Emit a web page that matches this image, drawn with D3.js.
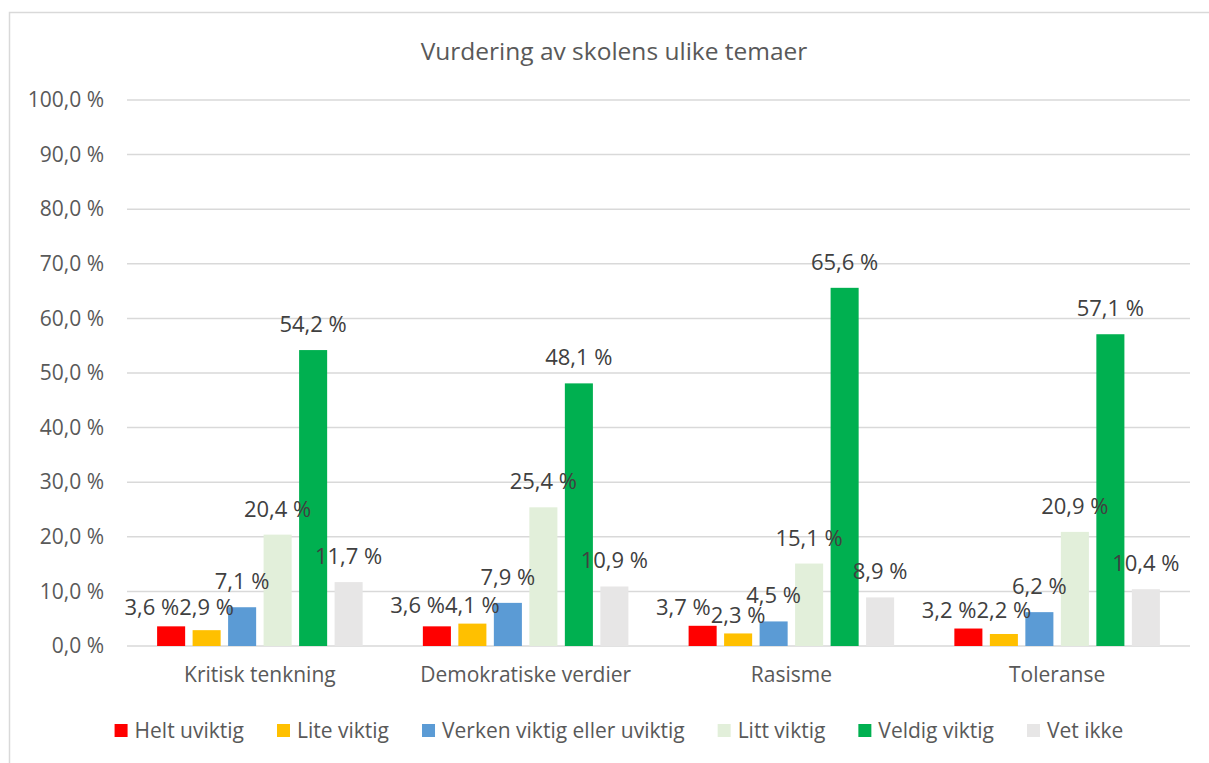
<!DOCTYPE html>
<html>
<head>
<meta charset="utf-8">
<script src="https://cdn.jsdelivr.net/npm/d3@7"></script>
<style>
  body { margin: 0; background: #fff; }
  svg { display: block; font-family: "Open Sans", "Noto Sans", sans-serif; }
</style>
</head>
<body>
<svg width="1209" height="763"></svg>
<script>
var categories = ["Kritisk tenkning", "Demokratiske verdier", "Rasisme", "Toleranse"];
var seriesNames = ["Helt uviktig", "Lite viktig", "Verken viktig eller uviktig", "Litt viktig", "Veldig viktig", "Vet ikke"];
var seriesColors = ["#FF0000", "#FFC000", "#5B9BD5", "#E2EFDA", "#00B050", "#E7E6E6"];
var heltUviktig = [3.6, 3.6, 3.7, 3.2];
var liteViktig = [2.9, 4.1, 2.3, 2.2];
var verken = [7.1, 7.9, 4.5, 6.2];
var littViktig = [20.4, 25.4, 15.1, 20.9];
var veldigViktig = [54.2, 48.1, 65.6, 57.1];
var vetIkke = [11.7, 10.9, 8.9, 10.4];
var yTicks = [0, 10, 20, 30, 40, 50, 60, 70, 80, 90, 100];

var seriesValues = [heltUviktig, liteViktig, verken, littViktig, veldigViktig, vetIkke];

var svg = d3.select("svg");
var nb = d3.formatLocale({decimal: ",", thousands: " ", grouping: [3], currency: ["", ""]});
var fmt = function(v) { return nb.format(".1f")(v) + " %"; };

// outer chart border
svg.append("rect")
  .attr("x", 9.5).attr("y", 12.5)
  .attr("width", 1250).attr("height", 800)
  .attr("fill", "none").attr("stroke", "#D9D9D9").attr("stroke-width", 1.5);

svg.append("text")
  .attr("x", 614).attr("y", 60)
  .attr("text-anchor", "middle")
  .attr("fill", "#595959")
  .style("font-size", "24.5px")
  .text("Vurdering av skolens ulike temaer");

var x0 = d3.scaleBand().domain(categories).range([127, 1190]).padding(0);
var x1 = d3.scaleBand().domain(seriesNames).range([0, x0.bandwidth()])
  .paddingInner(0.21).paddingOuter(0.848);
var y = d3.scaleLinear().domain([0, 100]).range([646, 100]);

// gridlines
svg.append("g").selectAll("line")
  .data(yTicks)
  .join("line")
  .attr("x1", 127).attr("x2", 1190)
  .attr("y1", d => y(d)).attr("y2", d => y(d))
  .attr("stroke", "#D9D9D9").attr("stroke-width", 1.5);

// y axis labels
var yAxis = svg.append("g")
  .attr("transform", "translate(104,0)")
  .call(d3.axisLeft(y).tickValues(yTicks).tickFormat(fmt).tickSize(0).tickPadding(0));
yAxis.select(".domain").remove();
yAxis.selectAll("text")
  .attr("fill", "#595959")
  .style("font-family", "'Open Sans', sans-serif")
  .style("font-size", "21px");

// category labels
var xAxis = svg.append("g")
  .attr("transform", "translate(0,646)")
  .call(d3.axisBottom(x0).tickSize(0).tickPadding(21));
xAxis.select(".domain").remove();
xAxis.selectAll("text")
  .attr("fill", "#595959")
  .style("font-family", "'Open Sans', sans-serif")
  .style("font-size", "21px");

// flatten to bar records
var bars = [];
categories.forEach(function(c, ci) {
  seriesNames.forEach(function(s, si) {
    bars.push({cat: c, ci: ci, series: s, si: si, value: seriesValues[si][ci]});
  });
});

svg.append("g").selectAll("rect")
  .data(bars)
  .join("rect")
  .attr("x", d => x0(d.cat) + x1(d.series))
  .attr("y", d => y(d.value))
  .attr("width", x1.bandwidth())
  .attr("height", d => y(0) - y(d.value))
  .attr("fill", d => seriesColors[d.si]);

// data labels
var labels = svg.append("g").selectAll("text")
  .data(bars)
  .join("text")
  .attr("text-anchor", "middle")
  .attr("fill", "#404040")
  .style("font-size", "22px")
  .text(d => fmt(d.value));

labels.each(function(d) {
  d.cx = x0(d.cat) + x1(d.series) + x1.bandwidth() / 2;
  d.by = y(d.value) - 18;
  d.w = this.getComputedTextLength();
});

// crude overlap fix like excel does: nudge neighbours apart
categories.forEach(function(c) {
  var group = bars.filter(d => d.cat === c);
  for (var i = 1; i < group.length; i++) {
    var a = group[i - 1], b = group[i];
    var vdiff = Math.abs(a.by - b.by);
    var overlap = (a.cx + a.w / 2) - (b.cx - b.w / 2);
    if (overlap <= 0 || vdiff >= 19) continue;
    if (vdiff < 10) {
      a.cx -= overlap;
      a.by = b.by = Math.min(a.by, b.by) + 7;
    } else {
      if (a.by > b.by) a.by = b.by + 20; else b.by = a.by + 20;
    }
  }
});

labels.attr("x", d => d.cx).attr("y", d => d.by);

// legend
var legend = svg.append("g");
var items = legend.selectAll("g")
  .data(seriesNames)
  .join("g");
items.append("rect")
  .attr("width", 13).attr("height", 13)
  .attr("y", 724)
  .attr("fill", (d, i) => seriesColors[i]);
items.append("text")
  .attr("x", 20).attr("y", 738)
  .attr("fill", "#595959")
  .style("font-size", "21px")
  .text(d => d);

var gap = 33;
var pos = 0;
items.each(function() {
  d3.select(this).attr("transform", "translate(" + pos + ",0)");
  pos += 20 + d3.select(this).select("text").node().getComputedTextLength() + gap;
});
var total = pos - gap;
legend.attr("transform", "translate(" + (619 - total / 2) + ",0)");
</script>
</body>
</html>
